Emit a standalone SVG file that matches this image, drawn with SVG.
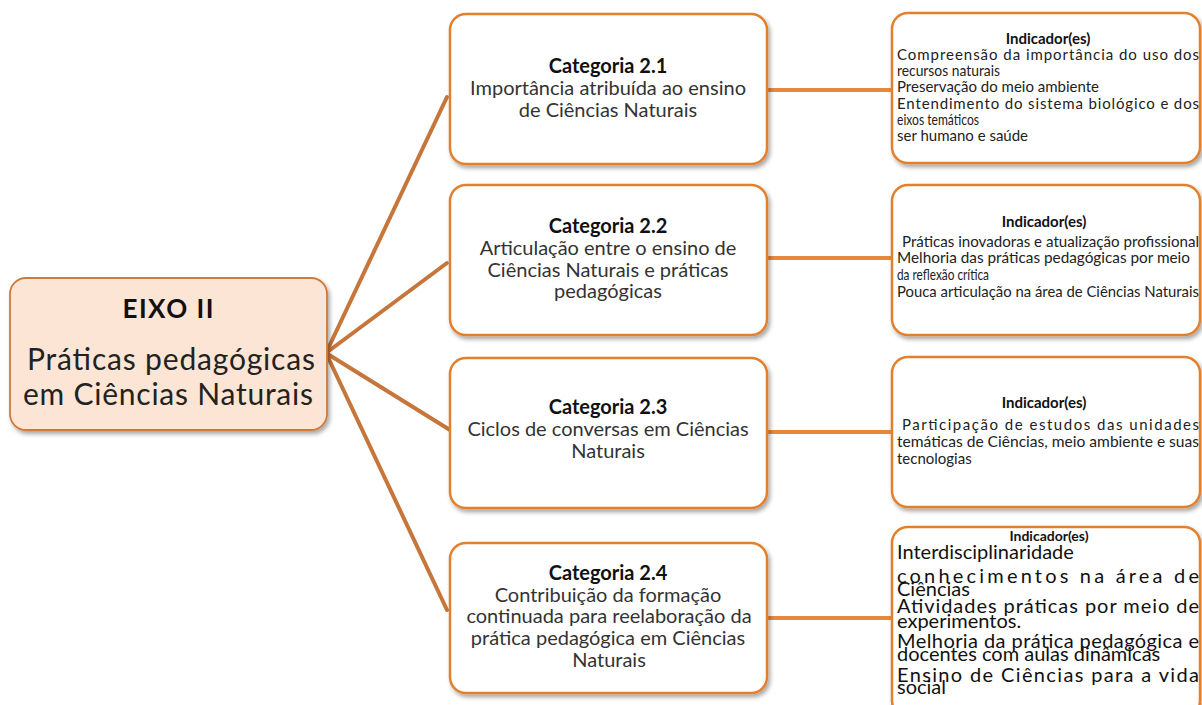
<svg xmlns="http://www.w3.org/2000/svg" width="1202" height="705" viewBox="0 0 1202 705">
<style>
.box{fill:#ffffff;stroke:#E2802F;stroke-width:2.5;filter:url(#sh)}
.main{fill:#FCE5D5;stroke:#D07A36;stroke-width:1.8;filter:url(#sh)}
.diag{stroke:#C6763A;stroke-width:4;stroke-linecap:round;fill:none}
.hor{stroke:#E8883A;stroke-width:4;fill:none}
text{font-family:Lato,"Liberation Sans",sans-serif;fill:#222}
.ct{font-size:20px;font-weight:bold;text-anchor:middle;fill:#111}
.cb{font-size:20px;text-anchor:middle;fill:#333}
.it{font-size:15px;font-weight:bold;text-anchor:middle;fill:#111}
.ib{font-size:15px;fill:#222}
.ib4{font-size:20px;fill:#111}
</style>
<defs>
<filter id="sh" x="-10%" y="-10%" width="125%" height="130%">
<feDropShadow dx="2" dy="3" stdDeviation="2" flood-color="#000" flood-opacity="0.35"/>
</filter>
</defs>
<g id="connectors">
<line class="diag" x1="326" y1="353" x2="447" y2="97"/>
<line class="diag" x1="326" y1="353" x2="447" y2="263"/>
<line class="diag" x1="326" y1="353" x2="450" y2="430"/>
<line class="diag" x1="326" y1="353" x2="447" y2="610"/>
<line class="hor" x1="767" y1="90" x2="892" y2="90"/>
<line class="hor" x1="767" y1="258" x2="892" y2="258"/>
<line class="hor" x1="767" y1="432" x2="892" y2="432"/>
<line class="hor" x1="767" y1="618" x2="892" y2="618"/>
</g>
<g id="eixo">
<rect class="main" x="10" y="278" width="317" height="152" rx="16"/>
<text x="168" y="318" style="font-size:26px;font-weight:bold;text-anchor:middle;fill:#111" textLength="91" lengthAdjust="spacing">EIXO II</text>
<text x="171" y="370" style="font-size:30px;text-anchor:middle;fill:#222" textLength="288" lengthAdjust="spacing">Práticas pedagógicas</text>
<text x="168" y="405" style="font-size:30px;text-anchor:middle;fill:#222" textLength="290" lengthAdjust="spacing">em Ciências Naturais</text>
</g>
<g id="cat21">
<rect class="box" x="450" y="14" width="317" height="150" rx="16"/>
<text class="ct" x="608" y="73">Categoria 2.1</text>
<text class="cb" x="608" y="95">Importância atribuída ao ensino</text>
<text class="cb" x="608" y="117">de Ciências Naturais</text>
</g>
<g id="cat22">
<rect class="box" x="450" y="185" width="317" height="150" rx="16"/>
<text class="ct" x="608" y="233">Categoria 2.2</text>
<text class="cb" x="608" y="255">Articulação entre  o ensino de</text>
<text class="cb" x="608" y="277">Ciências Naturais  e práticas</text>
<text class="cb" x="608" y="298">pedagógicas</text>
</g>
<g id="cat23">
<rect class="box" x="450" y="358" width="317" height="150" rx="16"/>
<text class="ct" x="608" y="414">Categoria 2.3</text>
<text class="cb" x="608" y="436">Ciclos de conversas em Ciências</text>
<text class="cb" x="608" y="458">Naturais</text>
</g>
<g id="cat24">
<rect class="box" x="450" y="543" width="317" height="150" rx="16"/>
<text class="ct" x="608" y="580">Categoria 2.4</text>
<text class="cb" x="608" y="602">Contribuição da formação</text>
<text class="cb" x="609" y="623">continuada para reelaboração da</text>
<text class="cb" x="608" y="645">prática pedagógica  em Ciências</text>
<text class="cb" x="609" y="667">Naturais</text>
</g>
<g id="ind21">
<rect class="box" x="892" y="13" width="308" height="150" rx="16"/>
<text class="it" x="1048" y="44">Indicador(es)</text>
<text class="ib" x="897" y="60" textLength="302" lengthAdjust="spacing">Compreensão da importância do uso dos</text>
<text class="ib" x="897" y="76" textLength="103" lengthAdjust="spacingAndGlyphs">recursos naturais</text>
<text class="ib" x="897" y="92">Preservação do meio ambiente</text>
<text class="ib" x="897" y="109" textLength="302" lengthAdjust="spacing">Entendimento do sistema biológico e dos</text>
<text class="ib" x="897" y="125" textLength="82" lengthAdjust="spacingAndGlyphs">eixos temáticos</text>
<text class="ib" x="897" y="141">ser humano e saúde</text>
</g>
<g id="ind22">
<rect class="box" x="892" y="185" width="308" height="150" rx="16"/>
<text class="it" x="1044" y="227">Indicador(es)</text>
<text class="ib" x="902" y="247" textLength="297" lengthAdjust="spacingAndGlyphs">Práticas inovadoras e atualização  profissional</text>
<text class="ib" x="897" y="263" textLength="293" lengthAdjust="spacingAndGlyphs">Melhoria das práticas pedagógicas por meio</text>
<text class="ib" x="897" y="280" textLength="92" lengthAdjust="spacingAndGlyphs">da reflexão crítica</text>
<text class="ib" x="897" y="297" textLength="302" lengthAdjust="spacingAndGlyphs">Pouca articulação na área de Ciências Naturais</text>
</g>
<g id="ind23">
<rect class="box" x="892" y="357" width="308" height="150" rx="16"/>
<text class="it" x="1044" y="408">Indicador(es)</text>
<text class="ib" x="902" y="430" textLength="297" lengthAdjust="spacing">Participação de estudos das unidades</text>
<text class="ib" x="897" y="447" textLength="302" lengthAdjust="spacingAndGlyphs">temáticas  de Ciências, meio ambiente e suas</text>
<text class="ib" x="897" y="464">tecnologias</text>
</g>
<g id="ind24">
<rect class="box" x="892" y="527" width="308" height="190" rx="16"/>
<text class="it" x="1049" y="541" style="font-size:14px">Indicador(es)</text>
<text class="ib4" x="897" y="559">Interdisciplinaridade</text>
<text class="ib4" x="897" y="583" textLength="302" lengthAdjust="spacing">conhecimentos na área de</text>
<text class="ib4" x="897" y="596">Ciências</text>
<text class="ib4" x="897" y="613" textLength="302" lengthAdjust="spacing">Atividades práticas por meio de</text>
<text class="ib4" x="897" y="628">experimentos.</text>
<text class="ib4" x="897" y="648" textLength="302" lengthAdjust="spacing">Melhoria da prática pedagógica e</text>
<text class="ib4" x="897" y="661">docentes com  aulas dinâmicas</text>
<text class="ib4" x="897" y="682" textLength="302" lengthAdjust="spacing">Ensino  de Ciências para a vida</text>
<text class="ib4" x="897" y="694">social</text>
</g>
</svg>
